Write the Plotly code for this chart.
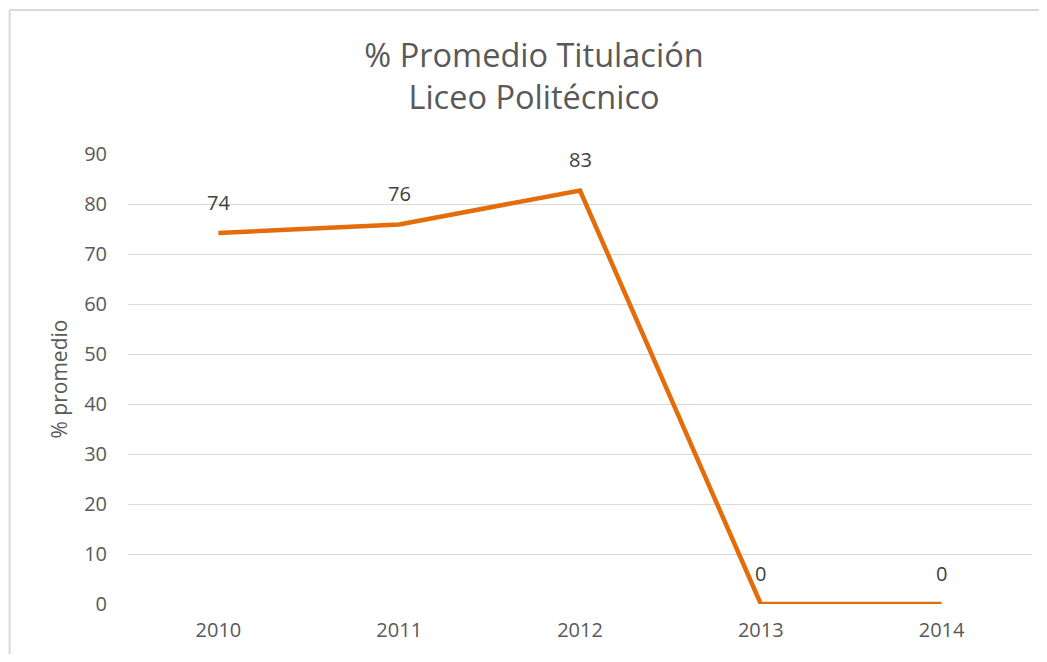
import plotly.graph_objects as go

years = ["2010", "2011", "2012", "2013", "2014"]
values = [74.2, 75.9, 82.7, 0, 0]
labels = ["74", "76", "83", "0", "0"]
y_ticks = [0, 10, 20, 30, 40, 50, 60, 70, 80, 90]

FONT = "Open Sans"
W, H = 1039, 646          # page body has an 8px margin
L, T = 119.5, 146
PW, PH = 905, 450

fig = go.Figure()
fig.add_trace(go.Scatter(
    x=years, y=values, mode="lines",
    line=dict(color="#E46C0A", width=4.5),
    hoverinfo="skip", showlegend=False,
))
for i, (yv, lab) in enumerate(zip(values, labels)):
    fig.add_annotation(x=i, y=yv, text=lab, showarrow=False, yshift=31,
                       font=dict(family=FONT, size=20, color="#404040"))

fig.update_layout(
    width=W, height=H,
    margin=dict(l=L, r=W - L - PW, t=T, b=H - T - PH),
    paper_bgcolor="white", plot_bgcolor="white",
    title=dict(text="% Promedio Titulación<br>Liceo Politécnico",
               x=526 / W, xref="container", xanchor="center",
               y=1 - 59 / H, yref="container", yanchor="middle",
               font=dict(family=FONT, size=32.5, color="#595959")),
    font=dict(family=FONT, color="#595959"),
)
fig.update_xaxes(type="category", range=[-0.5, 4.5], showgrid=False, showline=False,
                 zeroline=False, ticks="",
                 tickfont=dict(family=FONT, size=20, color="#595959"),
                 ticklabelstandoff=12)
fig.update_yaxes(range=[0, 90], tickvals=y_ticks, showgrid=True, gridcolor="#D9D9D9",
                 gridwidth=1.3, zeroline=False, showline=False, ticks="",
                 tickfont=dict(family=FONT, size=20, color="#595959"),
                 ticklabelstandoff=20,
                 title=dict(text="% promedio", standoff=10,
                            font=dict(family=FONT, size=21, color="#595959")))
bx0 = (1 - L) / PW
by1 = (T + PH - 2) / PH
border = dict(color="#D9D9D9", width=2)
fig.add_shape(type="line", xref="paper", yref="paper", x0=bx0, x1=1.2, y0=by1, y1=by1,
              line=border, layer="below")
fig.add_shape(type="line", xref="paper", yref="paper", x0=bx0, x1=bx0, y0=-0.3, y1=by1,
              line=border, layer="below")
fig.write_html("out.html")
